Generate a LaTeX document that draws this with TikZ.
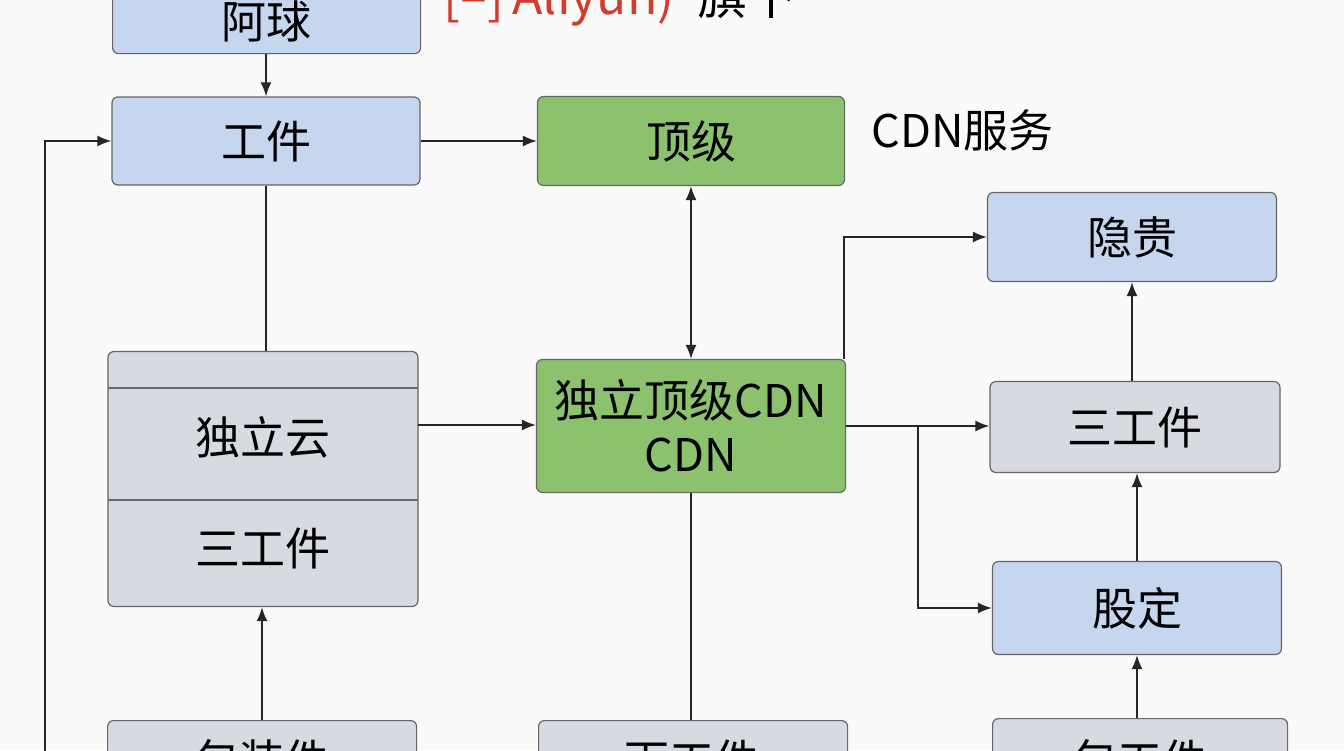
\documentclass[tikz,border=0pt]{standalone}
\usepackage{fontspec}
\setmainfont{Noto Sans CJK SC}
\usetikzlibrary{arrows.meta}
\begin{document}
\begin{tikzpicture}[x=1pt,y=-1pt,
  fs/.style={font=\fontsize{45}{52}\selectfont},
  box/.style={draw=black!60,line width=1.2pt,rounded corners=6pt,fs},
  blue/.style={box,fill={rgb,255:red,198;green,214;blue,238}},
  green/.style={box,fill={rgb,255:red,140;green,194;blue,110}},
  gray/.style={box,fill={rgb,255:red,216;green,218;blue,226}},
  con/.style={line width=1.8pt,black!85},
  arr/.style={con,-{Latex[length=14pt,width=11pt]}}]
\fill[white!96!gray] (0,0) rectangle (1344,750);
\useasboundingbox (0,0) rectangle (1344,750);
\begin{scope}
\clip (0,0) rectangle (1344,750);
\node[blue,minimum width=308pt,minimum height=63pt,anchor=north west] (aq) at (112,-10) {};
\node[fs,anchor=south] at (266,46) {阿球};
\node[font=\fontsize{50}{56}\selectfont,text={rgb,255:red,210;green,60;blue,45},anchor=south west] (logo) at (440,30) {[–]\,Aliyun)\textcolor{black}{\ \ 旗下}};
\node[blue,minimum width=308pt,minimum height=88pt] (gj) at (266,141) {工件};
\node[green,minimum width=307pt,minimum height=89pt] (dj) at (691,141) {顶级};
\node[fs,anchor=west] (cdn) at (868,130) {CDN服务};
\node[blue,minimum width=289pt,minimum height=89pt] (yg) at (1132,237) {隐贵};
\node[green,minimum width=309pt,minimum height=133pt,align=center,font=\fontsize{45}{54}\selectfont] (dl) at (691,426) {独立顶级CDN\\CDN};
\node[gray,minimum width=310pt,minimum height=255pt] (lb) at (263,479) {};
\draw[black!60,line width=1.2pt] (108,388) -- (418,388) (108,500) -- (418,500);
\node[fs] at (263,437) {独立云};
\node[fs] at (263,548) {三工件};
\node[gray,minimum width=290pt,minimum height=91pt] (sg) at (1135,427) {三工件};
\node[blue,minimum width=289pt,minimum height=93pt] (gd) at (1137,608) {股定};
\node[gray,minimum width=309pt,minimum height=90pt,anchor=north west] (b1) at (107,720) {};
\node[gray,minimum width=309pt,minimum height=90pt,anchor=north west] (b2) at (538,720) {};
\node[gray,minimum width=295pt,minimum height=90pt,anchor=north west] (b3) at (992,718) {};
\node[fs,anchor=north] at (262,736) {包装件};
\node[fs,anchor=north] at (692,736) {下工件};
\node[fs,anchor=north] at (1140,736) {包工件};
\coordinate (lft) at (45,760);
\draw[arr] (aq.south -| gj.north) -- (gj.north);
\draw[arr] (gj) -- (dj);
\draw[con] (gj.south) -- (gj.south |- lb.north);
\draw[arr] (lft) |- (gj.west);
\draw[arr,{Latex[length=14pt,width=11pt]}-{Latex[length=14pt,width=11pt]}] (dj) -- (dl);
\draw[arr] ([xshift=-2pt]dl.north east) |- (yg.west);
\draw[arr] (dl.east) -- (dl.east -| sg.west);
\draw[arr] (918,427) |- (gd.west);
\draw[arr] (sg.north -| 1132,0) -- (yg.south -| 1132,0);
\draw[arr] (gd.north) -- (gd.north |- sg.south);
\draw[arr] (b3.north -| gd.south) -- (gd.south);
\draw[arr] (b1.north -| 262,0) -- (lb.south -| 262,0);
\draw[arr] (418,425) -- (dl.west |- 0,425);
\draw[con] (dl.south) -- (dl.south |- b2.north);
\end{scope}
\end{tikzpicture}
\end{document}
